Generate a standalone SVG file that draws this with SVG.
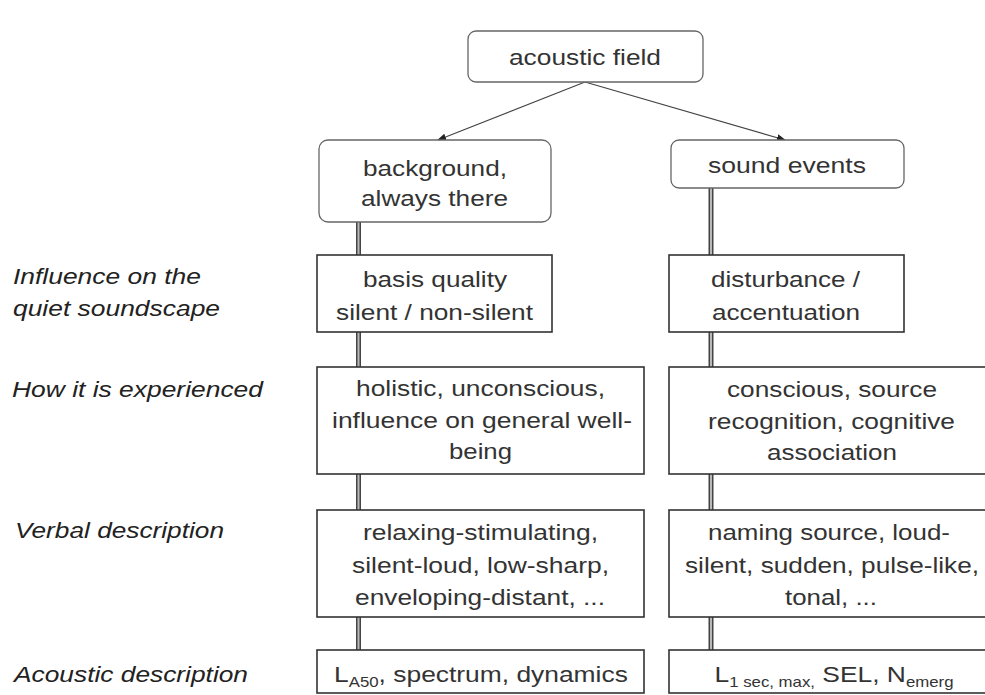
<svg xmlns="http://www.w3.org/2000/svg" width="985" height="695" viewBox="0 0 985 695">
<style>
.rb{fill:#fff;stroke:#666;stroke-width:1.3}
.bx{fill:#fff;stroke:#333;stroke-width:1.6}
.t{font-family:"Liberation Sans",Arial,sans-serif;font-size:22px;fill:#333;text-anchor:middle}
.sub{font-size:14px}
.lb{font-family:"Liberation Sans",Arial,sans-serif;font-size:22px;font-style:italic;fill:#222}
.ar{stroke:#444;stroke-width:1.1;fill:none}
.dO{stroke:#444;stroke-width:5}
.dI{stroke:#b8b8b8;stroke-width:2}
</style>
<defs>
<marker id="ah" viewBox="0 0 10 10" refX="9" refY="5" markerWidth="9" markerHeight="9" markerUnits="userSpaceOnUse" orient="auto">
<path d="M0,1 L10,5 L0,9 z" fill="#222"/>
</marker>
</defs>
<rect width="985" height="695" fill="#fff"/>
<g id="connectors">
<line class="ar" x1="585" y1="82" x2="438" y2="140" marker-end="url(#ah)"/>
<line class="ar" x1="585" y1="82" x2="785" y2="140" marker-end="url(#ah)"/>
<g class="dO">
<line x1="358.5" y1="222" x2="358.5" y2="255"/>
<line x1="358.5" y1="332" x2="358.5" y2="367"/>
<line x1="358.5" y1="474" x2="358.5" y2="510"/>
<line x1="358.5" y1="617" x2="358.5" y2="650"/>
<line x1="711" y1="188" x2="711" y2="255"/>
<line x1="711" y1="332" x2="711" y2="367"/>
<line x1="711" y1="474" x2="711" y2="510"/>
<line x1="711" y1="617" x2="711" y2="650"/>
</g>
<g class="dI">
<line x1="358.5" y1="222" x2="358.5" y2="255"/>
<line x1="358.5" y1="332" x2="358.5" y2="367"/>
<line x1="358.5" y1="474" x2="358.5" y2="510"/>
<line x1="358.5" y1="617" x2="358.5" y2="650"/>
<line x1="711" y1="188" x2="711" y2="255"/>
<line x1="711" y1="332" x2="711" y2="367"/>
<line x1="711" y1="474" x2="711" y2="510"/>
<line x1="711" y1="617" x2="711" y2="650"/>
</g>
</g>
<g id="acoustic-field">
<rect class="rb" x="468" y="31" width="235" height="51" rx="8"/>
<text class="t" x="585" y="65" textLength="152" lengthAdjust="spacingAndGlyphs">acoustic field</text>
</g>
<g id="background">
<rect class="rb" x="319" y="140" width="232" height="82" rx="9"/>
<text class="t" x="435" y="176" textLength="144" lengthAdjust="spacingAndGlyphs">background,</text>
<text class="t" x="434.5" y="206" textLength="147" lengthAdjust="spacingAndGlyphs">always there</text>
</g>
<g id="sound-events">
<rect class="rb" x="671" y="140" width="233" height="48" rx="8"/>
<text class="t" x="787" y="173" textLength="158" lengthAdjust="spacingAndGlyphs">sound events</text>
</g>
<g id="basis-quality">
<rect class="bx" x="317" y="255" width="235" height="77"/>
<text class="t" x="435" y="287" textLength="144" lengthAdjust="spacingAndGlyphs">basis quality</text>
<text class="t" x="434.5" y="320" textLength="197" lengthAdjust="spacingAndGlyphs">silent / non-silent</text>
</g>
<g id="disturbance">
<rect class="bx" x="669" y="255" width="235" height="77"/>
<text class="t" x="785.5" y="287" textLength="149" lengthAdjust="spacingAndGlyphs">disturbance /</text>
<text class="t" x="786" y="320" textLength="148" lengthAdjust="spacingAndGlyphs">accentuation</text>
</g>
<g id="holistic">
<rect class="bx" x="317" y="367" width="327" height="107"/>
<text class="t" x="480.5" y="396" textLength="249" lengthAdjust="spacingAndGlyphs">holistic, unconscious,</text>
<text class="t" x="482" y="428" textLength="300" lengthAdjust="spacingAndGlyphs">influence on general well-</text>
<text class="t" x="480.5" y="459" textLength="63" lengthAdjust="spacingAndGlyphs">being</text>
</g>
<g id="conscious">
<rect class="bx" x="669" y="367" width="327" height="107"/>
<text class="t" x="832" y="397" textLength="210" lengthAdjust="spacingAndGlyphs">conscious, source</text>
<text class="t" x="831.5" y="429" textLength="247" lengthAdjust="spacingAndGlyphs">recognition, cognitive</text>
<text class="t" x="832" y="460" textLength="130" lengthAdjust="spacingAndGlyphs">association</text>
</g>
<g id="verbal-background">
<rect class="bx" x="317" y="510" width="327" height="107"/>
<text class="t" x="480.5" y="540" textLength="235" lengthAdjust="spacingAndGlyphs">relaxing-stimulating,</text>
<text class="t" x="480.5" y="573" textLength="257" lengthAdjust="spacingAndGlyphs">silent-loud, low-sharp,</text>
<text class="t" x="480" y="605" textLength="250" lengthAdjust="spacingAndGlyphs">enveloping-distant, ...</text>
</g>
<g id="verbal-events">
<rect class="bx" x="669" y="510" width="327" height="107"/>
<text class="t" x="829" y="540" textLength="242" lengthAdjust="spacingAndGlyphs">naming source, loud-</text>
<text class="t" x="832" y="573" textLength="294" lengthAdjust="spacingAndGlyphs">silent, sudden, pulse-like,</text>
<text class="t" x="831" y="605" textLength="92" lengthAdjust="spacingAndGlyphs">tonal, ...</text>
</g>
<g id="acoustic-background">
<rect class="bx" x="317" y="650" width="327" height="43"/>
<text class="t" transform="scale(1.2,1)" x="400.8" y="682">L<tspan class="sub" dy="5">A50</tspan><tspan dy="-5">, spectrum, dynamics</tspan></text>
</g>
<g id="acoustic-events">
<rect class="bx" x="669" y="650" width="327" height="43"/>
<text class="t" transform="scale(1.2,1)" x="695" y="682">L<tspan class="sub" dy="5">1 sec, max,</tspan><tspan dy="-5"> SEL, N</tspan><tspan class="sub" dy="5">emerg</tspan></text>
</g>
<g id="row-labels">
<text class="lb" x="13" y="284" textLength="188" lengthAdjust="spacingAndGlyphs">Influence on the</text>
<text class="lb" x="13" y="316" textLength="207" lengthAdjust="spacingAndGlyphs">quiet soundscape</text>
<text class="lb" x="12" y="397" textLength="251" lengthAdjust="spacingAndGlyphs">How it is experienced</text>
<text class="lb" x="15" y="538" textLength="209" lengthAdjust="spacingAndGlyphs">Verbal description</text>
<text class="lb" x="14" y="682" textLength="234" lengthAdjust="spacingAndGlyphs">Acoustic description</text>
</g>
</svg>
